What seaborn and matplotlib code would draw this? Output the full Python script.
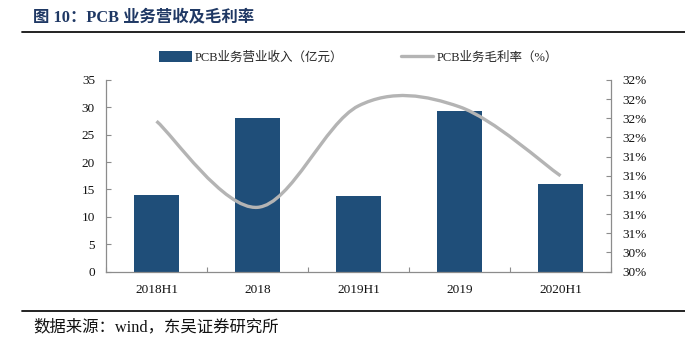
import numpy as np
import matplotlib
matplotlib.use("Agg")
import matplotlib.pyplot as plt
from matplotlib.path import Path
from matplotlib.patches import PathPatch
from matplotlib.lines import Line2D
import seaborn as sns

# ---- data ----
categories = ["2018H1", "2018", "2019H1", "2019", "2020H1"]
revenue = [13.9, 28.1, 13.8, 29.4, 16.0]          # 亿元
margin = [31.77, 30.87, 31.93, 31.92, 31.20]      # %
left_ticks = [0, 5, 10, 15, 20, 25, 30, 35]
right_ticks = [30.2, 30.4, 30.6, 30.8, 31.0, 31.2, 31.4, 31.6, 31.8, 32.0, 32.2]

title = "图 10：PCB 业务营收及毛利率"
source = "数据来源：wind，东吴证券研究所"
bar_label = "PCB业务营业收入（亿元）"
line_label = "PCB业务毛利率（%）"

BAR_COLOR = "#1f4e79"
LINE_COLOR = "#b4b4b4"
SPINE = "#8c8c8c"
TITLE_COLOR = "#1f3864"

sns.set_theme(style="white")
plt.rcParams["font.family"] = ["Liberation Serif", "Noto Sans CJK SC"]

fig = plt.figure(figsize=(6.85, 3.45), dpi=100)
ax = fig.add_axes([106 / 685, 1 - 271.5 / 345, (611 - 106) / 685, (271.5 - 80) / 345])

sns.barplot(x=categories, y=revenue, color=BAR_COLOR, width=0.436,
            saturation=1, ax=ax, edgecolor="none")
ax.set_xlim(-0.5, len(categories) - 0.5)
ax.set_ylim(0, 35)
ax.set_yticks(left_ticks)
ax.set_xlabel("")
ax.set_ylabel("")

ax2 = ax.twinx()
ax2.set_ylim(30.2, 32.2)
ax2.set_yticks(right_ticks)
ax2.set_yticklabels([f"{int(np.floor(v + 0.5 + 1e-9))}%" for v in right_ticks])

# smoothed line (Catmull-Rom -> cubic Bezier), drawn in data coordinates
xs = np.arange(len(margin), dtype=float)
ys = np.asarray(margin, dtype=float)
pts = np.column_stack([xs, ys])
ext = np.vstack([pts[0], pts, pts[-1]])
verts = [tuple(pts[0])]
codes = [Path.MOVETO]
for i in range(len(pts) - 1):
    p0, p1, p2, p3 = ext[i], ext[i + 1], ext[i + 2], ext[i + 3]
    c1 = p1 + (p2 - p0) / 6.0
    c2 = p2 - (p3 - p1) / 6.0
    verts += [tuple(c1), tuple(c2), tuple(p2)]
    codes += [Path.CURVE4] * 3
ax2.add_patch(PathPatch(Path(verts, codes), facecolor="none",
                        edgecolor=LINE_COLOR, lw=2.4, capstyle="butt",
                        zorder=3))

# spines & ticks
for a in (ax, ax2):
    a.spines["top"].set_visible(False)
    for s in ("left", "right", "bottom"):
        a.spines[s].set_color(SPINE)
        a.spines[s].set_linewidth(0.9)
ax.spines["right"].set_visible(False)
ax2.spines["left"].set_visible(False)
ax2.spines["bottom"].set_visible(False)

ax.tick_params(axis="y", direction="in", length=3.5, width=0.8, color=SPINE,
               labelsize=9.5, pad=8, labelcolor="#111111", left=True)
ax2.tick_params(axis="y", direction="in", length=3.5, width=0.8, color=SPINE,
                labelsize=9.5, pad=8, labelcolor="#111111", right=True)
ax.tick_params(axis="x", which="major", length=0, labelsize=9.5, pad=9,
               labelcolor="#111111")
ax.set_xticks(np.arange(-0.5, len(categories), 1.0), minor=True)
ax.tick_params(axis="x", which="minor", direction="in", length=3.5, width=0.8,
               color=SPINE, bottom=True)
ax.grid(False)
ax2.grid(False)

# legend
bar_handle = plt.Rectangle((0, 0), 1, 1, facecolor=BAR_COLOR, edgecolor="none")
line_handle = Line2D([0], [0], color=LINE_COLOR, lw=2.4)
fig.legend([bar_handle, line_handle], [bar_label, line_label],
           loc="center left", bbox_to_anchor=(159 / 685, 1 - 57.5 / 345),
           ncol=2, frameon=False, fontsize=9, handlelength=2.6,
           handleheight=0.9, handletextpad=0.25, columnspacing=4.6,
           borderaxespad=0, borderpad=0)

# title, rules, source
fig.text(33 / 685, 1 - 17 / 345, title, fontsize=11.8, fontweight="bold",
         color=TITLE_COLOR, va="center", ha="left")
fig.add_artist(Line2D([22 / 685, 1.0], [1 - 32 / 345, 1 - 32 / 345],
                      color="#111111", lw=1.3))
fig.add_artist(Line2D([22 / 685, 1.0], [1 - 311 / 345, 1 - 311 / 345],
                      color="#111111", lw=1.3))
fig.text(33 / 685, 1 - 327 / 345, source, fontsize=11.8, color="#111111",
         va="center", ha="left")

fig.savefig("out.png", dpi=100)
